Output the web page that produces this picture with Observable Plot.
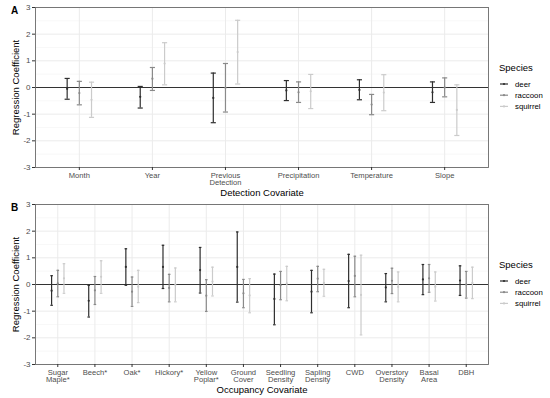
<!DOCTYPE html>
<html><head><meta charset="utf-8">
<script src="https://cdn.jsdelivr.net/npm/d3@7"></script>
<script src="https://cdn.jsdelivr.net/npm/@observablehq/plot@0.6"></script>
<style>
body{margin:0;background:#fff;font-family:"Liberation Sans",Arial,sans-serif;}
#wrap{position:relative;width:550px;height:398px;overflow:hidden;}
.panel{position:absolute;left:0;width:550px;}
.tag{position:absolute;font-weight:bold;font-size:10px;color:#000;}
.legend{position:absolute;}
</style></head><body><div id="wrap"></div>
<script>
// ---- data ----
const species = ["deer", "raccoon", "squirrel"];
const speciesColors = ["#2e2e2e", "#8a8a8a", "#cbcbcb"];
const yTicks = [-3, -2, -1, 0, 1, 2, 3];

const detectionLabels = ["Month", "Year", "Previous\nDetection", "Precipitation", "Temperature", "Slope"];
// [lower, mean, upper]
const detDeer = [[-0.44,-0.05,0.34],[-0.77,-0.35,0.04],[-1.32,-0.39,0.54],[-0.49,-0.11,0.26],[-0.46,-0.09,0.29],[-0.56,-0.18,0.21]];
const detRaccoon = [[-0.65,-0.21,0.23],[-0.11,0.33,0.75],[-0.92,-0.01,0.90],[-0.56,-0.18,0.21],[-1.02,-0.64,-0.26],[-0.35,0.00,0.36]];
const detSquirrel = [[-1.12,-0.46,0.20],[0.10,0.90,1.68],[0.13,1.33,2.52],[-0.79,-0.14,0.49],[-0.87,-0.19,0.48],[-1.80,-0.84,0.10]];

const occupancyLabels = ["Sugar\nMaple*", "Beech*", "Oak*", "Hickory*", "Yellow\nPoplar*", "Ground\nCover", "Seedling\nDensity", "Sapling\nDensity", "CWD", "Overstory\nDensity", "Basal\nArea", "DBH"];
const occDeer = [[-0.78,-0.23,0.33],[-1.22,-0.61,-0.03],[-0.03,0.66,1.34],[-0.15,0.66,1.47],[-0.32,0.54,1.39],[-0.66,0.66,1.97],[-1.51,-0.54,0.39],[-1.06,-0.27,0.53],[-0.87,0.13,1.13],[-0.65,-0.11,0.41],[-0.38,0.19,0.75],[-0.41,0.15,0.70]];
const occRaccoon = [[-0.46,0.04,0.53],[-0.75,-0.22,0.30],[-0.82,-0.27,0.28],[-0.65,-0.13,0.38],[-1.01,-0.42,0.18],[-0.87,-0.33,0.19],[-0.57,-0.03,0.49],[-0.27,0.22,0.68],[-0.46,0.32,1.06],[-0.34,0.14,0.61],[-0.29,0.23,0.75],[-0.51,0.00,0.49]];
const occSquirrel = [[-0.33,0.23,0.78],[-0.33,0.29,0.89],[-0.68,-0.08,0.53],[-0.65,-0.01,0.62],[-0.43,0.11,0.65],[-1.06,-0.41,0.22],[-0.61,0.04,0.68],[-0.44,0.06,0.57],[-1.89,-0.39,1.10],[-0.65,-0.09,0.47],[-0.62,-0.08,0.47],[-0.53,0.06,0.65]];

// ---- drawing ----
const dodgeWidth = 0.5, capWidth = 0.07;
const wrap = document.getElementById("wrap");

function rowsFor(groups) {
  const rows = [];
  groups.forEach((g, si) => {
    const off = (si - 1) * dodgeWidth / 3;
    g.forEach((t, i) => rows.push({species: species[si], x: i + 1 + off, lo: t[0], mean: t[1], hi: t[2]}));
  });
  return rows;
}

function panel({labels, groups, title, tag, top, height, marginBottom}) {
  const n = labels.length;
  const rows = rowsFor(groups);
  const idx = d3.range(1, n + 1);
  const minor = d3.range(-2.5, 3, 1);
  const chart = Plot.plot({
    width: 550, height,
    marginLeft: 35, marginRight: 62, marginTop: 7, marginBottom,
    style: {fontFamily: "Liberation Sans, Arial, sans-serif", background: "white", color: "black"},
    x: {domain: [0.4, n + 0.6], label: null},
    y: {domain: [-3, 3], label: null},
    color: {domain: species, range: speciesColors},
    marks: [
      Plot.gridY({ticks: minor, stroke: "#f3f3f3", strokeOpacity: 1, strokeWidth: 0.6}),
      Plot.gridY({ticks: yTicks, stroke: "#ebebeb", strokeOpacity: 1, strokeWidth: 1}),
      Plot.gridX({ticks: idx, stroke: "#ebebeb", strokeOpacity: 1, strokeWidth: 1}),
      Plot.ruleY([0], {stroke: "#333", strokeWidth: 1}),
      Plot.ruleX(rows, {x: "x", y1: "lo", y2: "hi", stroke: "species", strokeWidth: 1.2}),
      Plot.link(rows, {x1: d => d.x - capWidth / 2, x2: d => d.x + capWidth / 2, y1: "hi", y2: "hi", stroke: "species", strokeWidth: 1.2}),
      Plot.link(rows, {x1: d => d.x - capWidth / 2, x2: d => d.x + capWidth / 2, y1: "lo", y2: "lo", stroke: "species", strokeWidth: 1.2}),
      Plot.dot(rows, {x: "x", y: "mean", r: 1.1, fill: "species", stroke: null}),
      Plot.frame({stroke: "#6a6a6a", strokeWidth: 0.9}),
      Plot.axisY({ticks: yTicks, tickFormat: d => String(d), tickSize: 3, tickPadding: 2, fontSize: 8, stroke: "#333", fill: "#4d4d4d", label: null}),
      Plot.axisX({ticks: idx, tickFormat: i => labels[i - 1], tickSize: 3, tickPadding: 2, fontSize: 7.6, stroke: "#333", fill: "#4d4d4d", label: null}),
      Plot.text([title], {text: d => d, frameAnchor: "bottom", textAnchor: "middle", lineAnchor: "bottom", dy: 28, fontSize: 9.5, fill: "#000"}),
      Plot.text(["Regression Coefficient"], {text: d => d, frameAnchor: "left", textAnchor: "middle", rotate: -90, lineAnchor: "top", dx: -23, fontSize: 9.5, fill: "#000"})
    ]
  });
  const div = document.createElement("div");
  div.className = "panel";
  div.style.top = top + "px";
  div.style.height = height + "px";
  div.appendChild(chart);
  wrap.appendChild(div);

  const t = document.createElement("div");
  t.className = "tag";
  t.style.left = "11px";
  t.style.top = (top + 5) + "px";
  t.textContent = tag;
  wrap.appendChild(t);

  // legend
  const lg = d3.create("svg").attr("width", 52).attr("height", 52).attr("class", "legend")
    .style("left", "497px").style("top", (top + 59) + "px")
    .style("font-family", "Liberation Sans, Arial, sans-serif");
  lg.append("text").attr("x", 2).attr("y", 12).attr("font-size", 9.5).attr("fill", "#000").text("Species");
  species.forEach((s, i) => {
    const g = lg.append("g").attr("transform", `translate(0,${25 + i * 11.2})`);
    g.append("line").attr("x1", 3).attr("x2", 11).attr("stroke", speciesColors[i]).attr("stroke-width", 1.2);
    g.append("circle").attr("cx", 7).attr("r", 1.1).attr("fill", speciesColors[i]);
    g.append("text").attr("x", 18).attr("dy", "0.35em").attr("font-size", 7.8).attr("fill", "#000").text(s);
  });
  wrap.appendChild(lg.node());
}

panel({labels: detectionLabels, groups: [detDeer, detRaccoon, detSquirrel], title: "Detection Covariate", tag: "A", top: 0, height: 197, marginBottom: 30});
panel({labels: occupancyLabels, groups: [occDeer, occRaccoon, occSquirrel], title: "Occupancy Covariate", tag: "B", top: 197, height: 201, marginBottom: 34});
</script></body></html>
